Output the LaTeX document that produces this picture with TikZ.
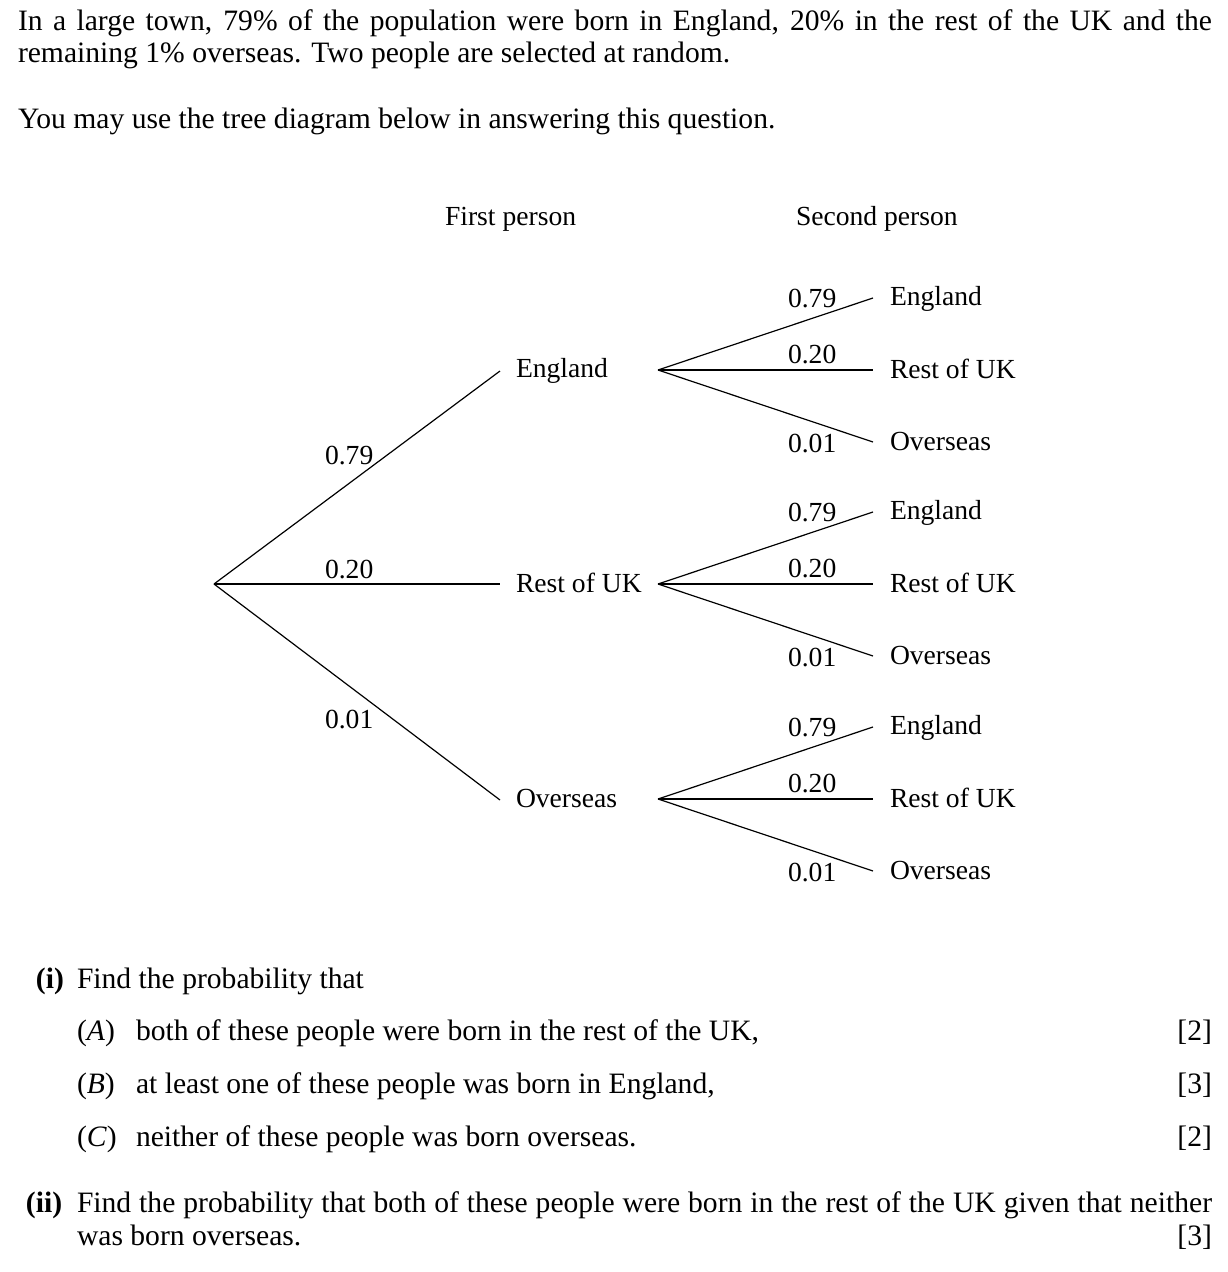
\documentclass[tikz,border=0pt]{standalone}
\usepackage{fontspec}
\setmainfont{Liberation Serif}
\begin{document}
\begin{tikzpicture}[x=0.75pt,y=-0.75pt,
  every node/.style={inner sep=0pt, outer sep=0pt, anchor=base west, font=\fontsize{20.7}{24}\selectfont},
  body/.style={font=\fontsize{22.2}{26}\selectfont},
  branch/.style={line width=0.9pt},
  marksbox/.style={body, anchor=base east}]
\useasboundingbox (0,0) rectangle (1228,1272);
% intro text
\node[body] (t1) at (18,30) {\makebox[895.5pt][s]{In a large town, 79\% of the population were born in England, 20\% in the rest of the UK and the}};
\node[body] (t2) at (18,62) {remaining 1\% overseas. Two people are selected at random.};
\node[body] (t3) at (18,128) {You may use the tree diagram below in answering this question.};
% headers
\node (h1) at (445,225) {First person};
\node (h2) at (796,225) {Second person};
% first stage
\coordinate (r) at (214,584);
\coordinate (e1) at (500,371);
\coordinate (e2) at (500,584);
\coordinate (e3) at (500,800);
\draw[branch] (r) -- (e1);
\draw[branch] (r) -- (e2);
\draw[branch] (r) -- (e3);
\node (p1) at (325,464) {0.79};
\node (p2) at (325,578) {0.20};
\node (p3) at (325,728) {0.01};
\node (a1) at (516,377) {England};
\node (a2) at (516,592) {Rest of UK};
\node (a3) at (516,807) {Overseas};
% second stage
\foreach \i/\y in {1/370,2/584,3/799}{
  \coordinate (s\i) at (658,\y);
  \coordinate (s\i a) at (873,\y-72);
  \coordinate (s\i b) at (873,\y);
  \coordinate (s\i c) at (873,\y+72);
  \draw[branch] (s\i) -- (s\i a);
  \draw[branch] (s\i) -- (s\i b);
  \draw[branch] (s\i) -- (s\i c);
  \node (q\i a) at (788,\y-63) {0.79};
  \node (q\i b) at (788,\y-7) {0.20};
  \node (q\i c) at (788,\y+82) {0.01};
  \node (b\i a) at (890,\y-65) {England};
  \node (b\i b) at (890,\y+8) {Rest of UK};
  \node (b\i c) at (890,\y+80) {Overseas};
}
% questions
\node[body] (qi) at (36,988) {\textbf{(i)}};
\node[body] (qit) at (77,988) {Find the probability that};
\node[body] (qA) at (77,1040) {(\textit{A})};
\node[body] (qAt) at (136,1040) {both of these people were born in the rest of the UK,};
\node[marksbox] (mA) at (1212,1040) {[2]};
\node[body] (qB) at (77,1093) {(\textit{B})};
\node[body] (qBt) at (136,1093) {at least one of these people was born in England,};
\node[marksbox] (mB) at (1212,1093) {[3]};
\node[body] (qC) at (77,1146) {(\textit{C})};
\node[body] (qCt) at (136,1146) {neither of these people was born overseas.};
\node[marksbox] (mC) at (1212,1146) {[2]};
\node[body] (qii) at (26,1212) {\textbf{(ii)}};
\node[body] (qiit) at (77,1212) {\makebox[851.25pt][s]{Find the probability that both of these people were born in the rest of the UK given that neither}};
\node[body] (qiit2) at (77,1245) {was born overseas.};
\node[marksbox] (mii) at (1212,1245) {[3]};
\end{tikzpicture}
\end{document}
